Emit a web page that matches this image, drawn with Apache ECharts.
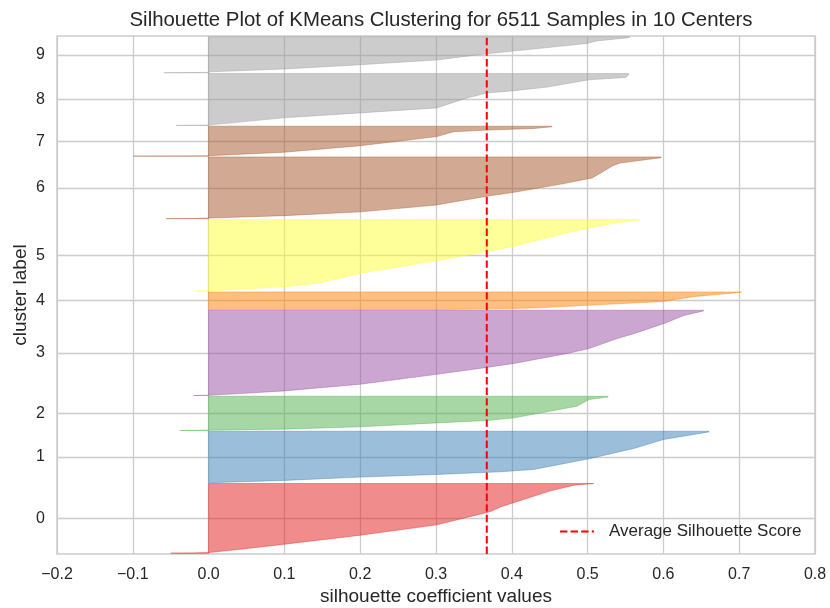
<!DOCTYPE html>
<html>
<head>
<meta charset="utf-8">
<title>Silhouette Plot</title>
<script src="https://cdn.jsdelivr.net/npm/echarts@6/dist/echarts.min.js"></script>
<style>
  html, body { margin: 0; padding: 0; background: #ffffff; }
  #chart { width: 830px; height: 608px; }
</style>
</head>
<body>
<div id="chart"></div>
<script>
// Cluster names shown on the y axis
const clusterLabels = ['0', '1', '2', '3', '4', '5', '6', '7', '8', '9'];

// Number of samples per cluster (6511 in total)
const clusterSizes = [891, 658, 437, 1090, 224, 916, 789, 383, 663, 460];

// Sorted silhouette coefficients of each cluster, as [rank within cluster, value]
const silhouette0 = [[0, -0.05], [3, -0.02], [8, 0.0], [51, 0.042], [115, 0.1], [230, 0.2], [363, 0.301], [490, 0.354], [533, 0.372], [592, 0.385], [648, 0.403], [797, 0.451], [870, 0.482], [891, 0.508]];
const silhouette1 = [[0, 0.0], [30, 0.1], [72, 0.2], [106, 0.301], [140, 0.385], [170, 0.429], [306, 0.502], [438, 0.561], [552, 0.6], [649, 0.66], [658, 0.66]];
const silhouette2 = [[0, -0.038], [3, -0.01], [4, 0.0], [17, 0.1], [47, 0.2], [97, 0.301], [127, 0.367], [161, 0.403], [310, 0.486], [395, 0.502], [429, 0.527], [437, 0.527]];
const silhouette3 = [[0, -0.02], [3, 0.0], [25, 0.042], [59, 0.1], [144, 0.2], [270, 0.301], [359, 0.367], [410, 0.403], [536, 0.473], [600, 0.502], [727, 0.539], [790, 0.561], [917, 0.6], [1022, 0.627], [1081, 0.653], [1090, 0.653]];
const silhouette4 = [[0, 0.30], [4, 0.36], [18, 0.43], [53, 0.5], [102, 0.6], [163, 0.639], [217, 0.701], [224, 0.703]];
const silhouette5 = [[0, -0.0175], [3, 0.0], [56, 0.1], [99, 0.144], [228, 0.2], [387, 0.3], [507, 0.369], [572, 0.401], [723, 0.465], [787, 0.492], [873, 0.538], [908, 0.568], [916, 0.568]];
const silhouette6 = [[0, -0.056], [3, -0.02], [8, 0.0], [39, 0.1], [87, 0.2], [174, 0.3], [290, 0.369], [334, 0.401], [442, 0.465], [520, 0.506], [681, 0.534], [711, 0.543], [780, 0.597], [789, 0.597]];
const silhouette7 = [[0, -0.099], [3, -0.03], [6, 0.0], [50, 0.099], [83, 0.139], [133, 0.2], [250, 0.301], [312, 0.323], [333, 0.367], [354, 0.429], [375, 0.453], [383, 0.453]];
const silhouette8 = [[0, -0.043], [3, -0.01], [4, 0.0], [97, 0.099], [160, 0.2], [224, 0.301], [351, 0.341], [414, 0.367], [444, 0.403], [490, 0.447], [583, 0.502], [613, 0.55], [646, 0.554], [663, 0.554]];
const silhouette9 = [[0, -0.059], [3, -0.02], [6, 0.0], [12, 0.002], [49, 0.101], [102, 0.2], [122, 0.231], [163, 0.301], [244, 0.367], [277, 0.402], [374, 0.499], [407, 0.512], [448, 0.554], [460, 0.556]];

const clusterProfiles = [silhouette0, silhouette1, silhouette2, silhouette3, silhouette4,
                         silhouette5, silhouette6, silhouette7, silhouette8, silhouette9];

// Mean silhouette coefficient over all samples
const averageScore = 0.367;

// x axis range and step
const xMin = -0.2, xMax = 0.8, xStep = 0.1;

// Set1-style palette sampled for ten clusters, drawn at half opacity
const clusterColors = ['rgba(228,26,28,0.5)', 'rgba(55,126,184,0.5)', 'rgba(77,175,74,0.5)',
                       'rgba(152,78,163,0.5)', 'rgba(255,127,0,0.5)', 'rgba(255,255,51,0.5)',
                       'rgba(166,86,40,0.5)', 'rgba(166,86,40,0.5)', 'rgba(153,153,153,0.5)',
                       'rgba(153,153,153,0.5)'];

const FONT = '"Liberation Sans", Arial, sans-serif';
const TEXT = '#262626';
const GRID = '#cccccc';

// Plot area edges in the 830x608 canvas
const plotLeft = 57, plotRight = 15, plotTop = 36, plotBottom = 54;

// Stack the clusters vertically with a 10-sample gap between them
const gap = 10;
const yLowers = [];
const yMids = [];
let yCursor = gap;
clusterSizes.forEach(function (n) {
  yLowers.push(yCursor);
  yMids.push(yCursor + n / 2);
  yCursor += n + gap;
});
const yMax = yCursor;

function clusterSeries(i) {
  const yLo = yLowers[i];
  const n = clusterSizes[i];
  const profile = clusterProfiles[i];
  return {
    type: 'custom',
    name: 'cluster ' + clusterLabels[i],
    coordinateSystem: 'cartesian2d',
    silent: true,
    clip: true,
    data: [[0, yMids[i]]],
    renderItem: function (params, api) {
      const pts = [api.coord([0, yLo])];
      profile.forEach(function (p) {
        pts.push(api.coord([p[1], yLo + p[0]]));
      });
      pts.push(api.coord([0, yLo + n]));
      return {
        type: 'polygon',
        shape: { points: pts },
        style: { fill: clusterColors[i], stroke: clusterColors[i], lineWidth: 0.8 }
      };
    }
  };
}

const series = clusterLabels.map(function (_, i) { return clusterSeries(i); });
series.push({
  type: 'line',
  name: 'Average Silhouette Score',
  data: [[averageScore, 0], [averageScore, yMax]],
  symbol: 'none',
  z: 5,
  itemStyle: { color: '#ff0000' },
  lineStyle: { color: '#ff0000', width: 2, type: [7.4, 3.2] }
});

const chart = echarts.init(document.getElementById('chart'), null, { renderer: 'canvas' });
chart.setOption({
  animation: false,
  backgroundColor: '#ffffff',
  title: {
    text: 'Silhouette Plot of KMeans Clustering for 6511 Samples in 10 Centers',
    left: plotLeft + (830 - plotLeft - plotRight) / 2,
    textAlign: 'center',
    top: 5,
    textStyle: { fontFamily: FONT, fontSize: 20.4, fontWeight: 'normal', color: TEXT }
  },
  grid: {
    left: plotLeft, right: plotRight, top: plotTop, bottom: plotBottom,
    outerBoundsMode: 'none',
    containLabel: false,
    show: true, borderColor: GRID, borderWidth: 1.5, backgroundColor: 'transparent'
  },
  legend: {
    data: ['Average Silhouette Score'],
    left: 554, top: 518,
    itemWidth: 34, itemHeight: 14,
    itemStyle: { opacity: 0 },
    textStyle: { fontFamily: FONT, fontSize: 17, color: TEXT, padding: [0, 0, 0, 10] }
  },
  xAxis: {
    type: 'value',
    min: xMin, max: xMax, interval: xStep,
    name: 'silhouette coefficient values',
    nameLocation: 'middle', nameGap: 33,
    nameMoveOverlap: false,
    nameTextStyle: { fontFamily: FONT, fontSize: 19, color: TEXT },
    axisLine: { show: false },
    axisTick: { show: false },
    axisLabel: {
      margin: 13, fontFamily: FONT, fontSize: 16, color: TEXT,
      formatter: function (v) { return (Math.round(v * 10) / 10).toFixed(1).replace('-', '\u2212'); }
    },
    splitLine: { show: true, lineStyle: { color: GRID, width: 1.3 } }
  },
  yAxis: {
    type: 'value',
    min: 0, max: yMax,
    name: 'cluster label',
    nameLocation: 'middle', nameGap: 27,
    nameMoveOverlap: false,
    nameTextStyle: { fontFamily: FONT, fontSize: 19, color: TEXT },
    axisLine: { show: false },
    axisTick: { show: false, customValues: yMids },
    axisLabel: {
      margin: 12, fontFamily: FONT, fontSize: 16, color: TEXT,
      customValues: yMids,
      formatter: function (v) {
        let best = 0;
        yMids.forEach(function (m, i) { if (Math.abs(m - v) < Math.abs(yMids[best] - v)) best = i; });
        return clusterLabels[best];
      }
    },
    splitLine: { show: true, lineStyle: { color: GRID, width: 1.3 } }
  },
  series: series
});
</script>
</body>
</html>
